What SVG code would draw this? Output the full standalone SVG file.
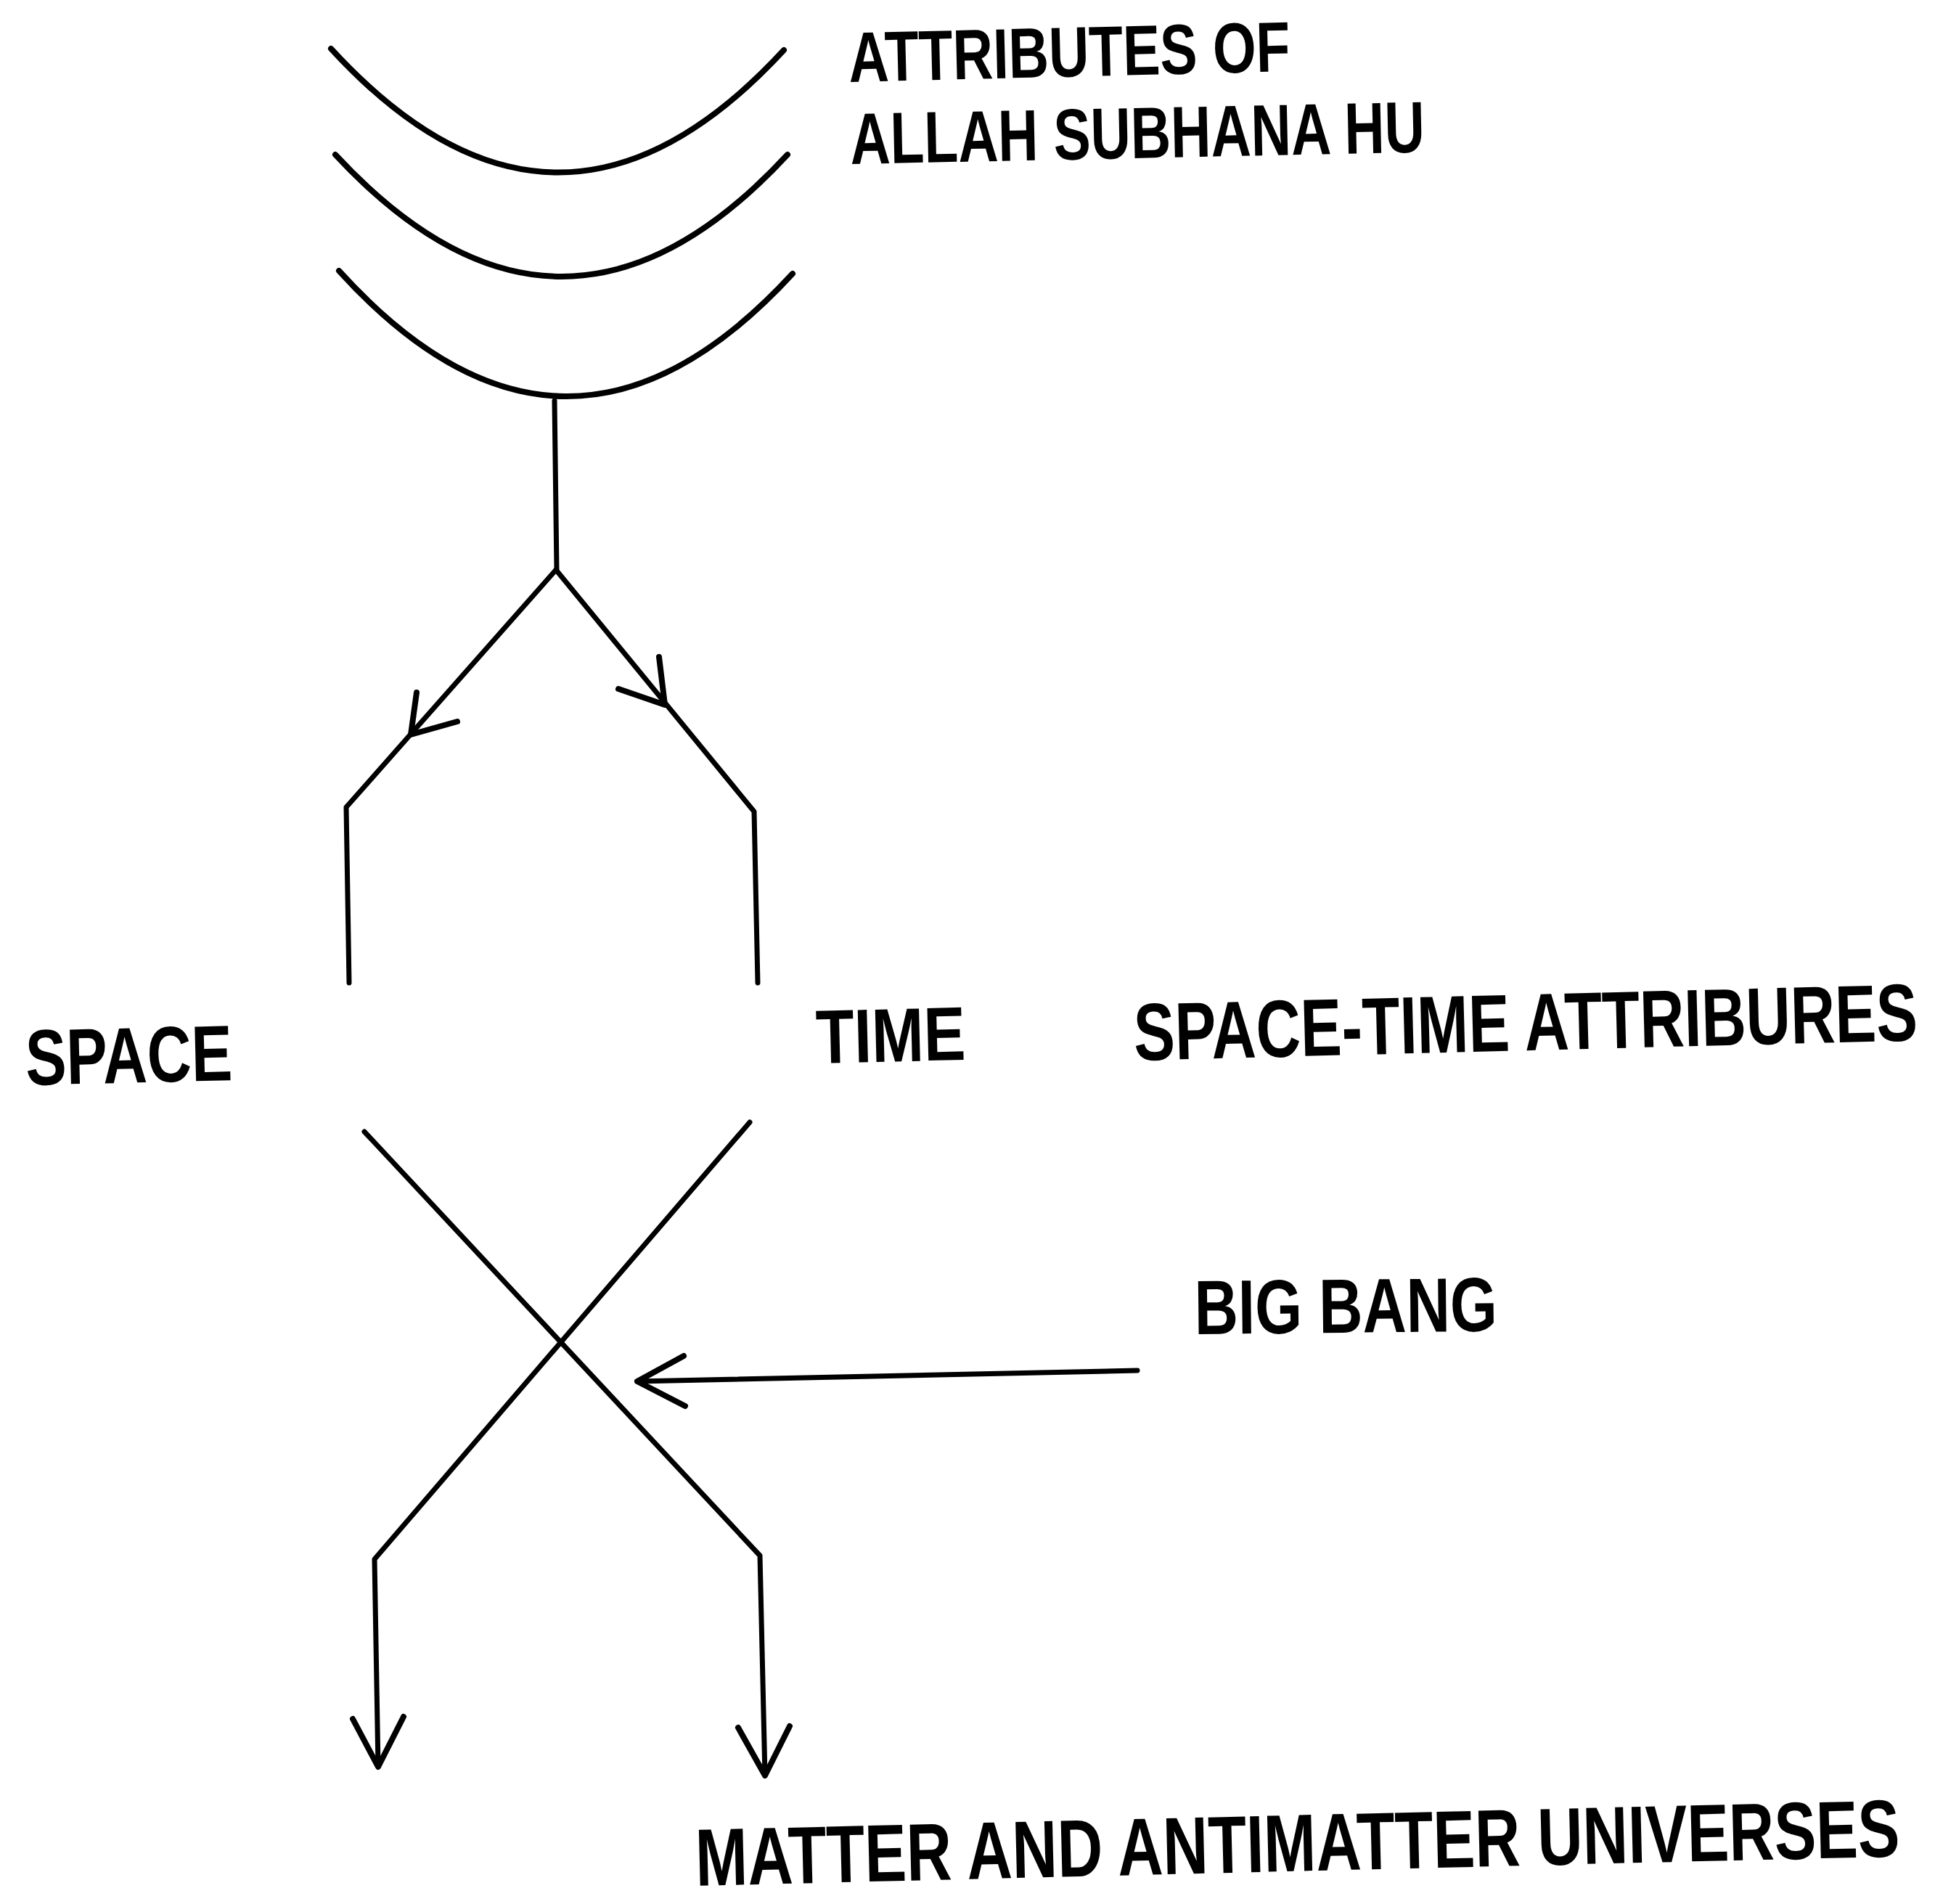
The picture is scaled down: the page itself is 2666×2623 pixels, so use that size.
<svg xmlns="http://www.w3.org/2000/svg" width="2666" height="2623" viewBox="0 0 2666 2623">
<style>
.ln{fill:none;stroke:#000;stroke-width:7;stroke-linecap:round;stroke-linejoin:round}
.arc{fill:none;stroke:#000;stroke-width:8;stroke-linecap:round}
.hd{fill:none;stroke:#000;stroke-width:8;stroke-linecap:round;stroke-linejoin:round}
.t{font-family:"Liberation Sans",Arial,Helvetica,sans-serif;font-weight:bold;fill:#000}
</style>
<rect width="2666" height="2623" fill="#fff"/>
<g id="attributes">
<path class="arc" d="M456,67 Q768,407 1080,69"/>
<path class="arc" d="M462,213 Q774,549 1085,213"/>
<path class="arc" d="M467,373 Q779,717 1092,377"/>
<text class="t" font-size="98" x="0" y="0" textLength="784" lengthAdjust="spacingAndGlyphs" transform="translate(1170 113) rotate(-1.4) scale(0.776 1)">ATTRIBUTES OF</text>
<text class="t" font-size="100" x="0" y="0" textLength="1039" lengthAdjust="spacingAndGlyphs" transform="translate(1172 226) rotate(-1.2) scale(0.762 1)">ALLAH SUBHANA HU</text>
</g>
<g id="space">
<text class="t" font-size="109" x="0" y="0" textLength="375" lengthAdjust="spacingAndGlyphs" transform="translate(36 1495) rotate(-1.4) scale(0.76 1)">SPACE</text>
</g>
<g id="time">
<text class="t" font-size="105" x="0" y="0" textLength="251" lengthAdjust="spacingAndGlyphs" transform="translate(1125 1465) rotate(-1.4) scale(0.821 1)">TIME</text>
</g>
<g id="spacetime-label">
<text class="t" font-size="112" x="0" y="0" textLength="1444" lengthAdjust="spacingAndGlyphs" transform="translate(1563 1461) rotate(-1.47) scale(0.748 1)">SPACE-TIME ATTRIBURES</text>
</g>
<g id="bigbang">
<text class="t" font-size="106" x="0" y="0" textLength="530" lengthAdjust="spacingAndGlyphs" transform="translate(1646 1838) rotate(-0.6) scale(0.787 1)">BIG BANG</text>
</g>
<g id="universes">
<text class="t" font-size="112" x="0" y="0" textLength="2178" lengthAdjust="spacingAndGlyphs" transform="translate(959 2598) rotate(-1.4) scale(0.762 1)">MATTER AND ANTIMATTER UNIVERSES</text>
</g>
<g id="connectors">
<path class="ln" d="M764,552 L767,785"/>
<path class="ln" d="M766,785 L477,1112 L481,1354"/>
<path class="hd" d="M574,954 L566,1012 L630,994"/>
<path class="ln" d="M766,785 L1039,1118 L1044,1354"/>
<path class="hd" d="M908,905 L916,971 L852,949"/>
<path class="ln" d="M502,1559 L1047,2143 L1054,2446"/>
<path class="hd" d="M1017,2380 L1054,2446 L1088,2378"/>
<path class="ln" d="M1033,1546 L516,2148 L521,2434"/>
<path class="hd" d="M486,2368 L521,2434 L556,2365"/>
<path class="ln" d="M1567,1888 L878,1903"/>
<path class="hd" d="M942,1868 L878,1903 L944,1937"/>
</g>
</svg>
